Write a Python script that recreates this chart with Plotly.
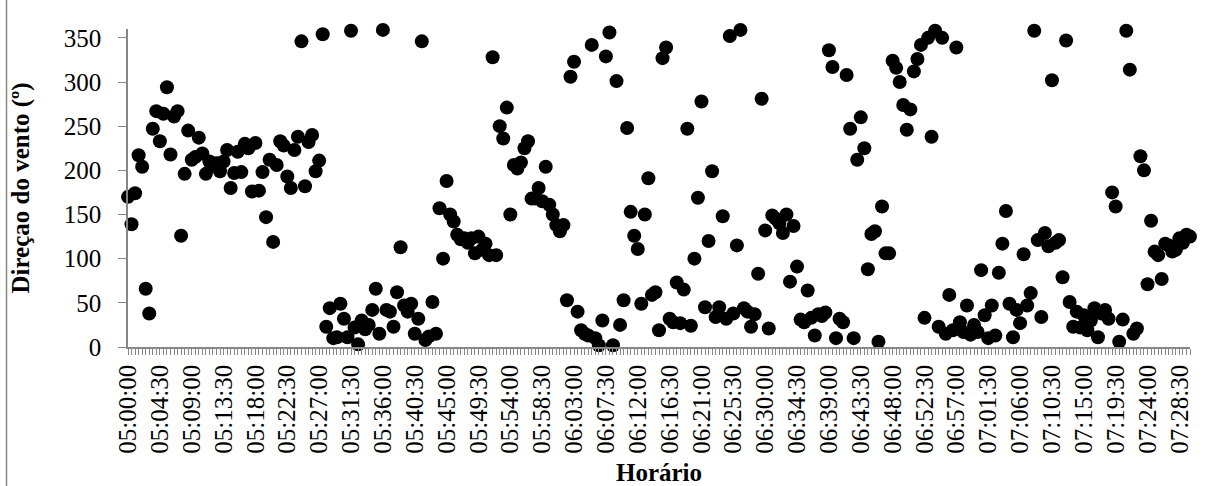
import plotly.graph_objects as go
from datetime import datetime, timedelta

# Category labels: one reading every 30 s from 05:00:00 to 07:30:00
times = [(datetime(2000, 1, 1, 5, 0, 0) + timedelta(seconds=30 * i)).strftime("%H:%M:%S")
         for i in range(301)]

# Wind direction (degrees)
direction = [
    170, 139, 174, 217, 204, 66, 38, 247, 267, 233,
    264, 294, 218, 261, 267, 126, 196, 245, 212, 215,
    237, 219, 196, 210, 205, 208, 199, 210, 223, 180,
    197, 221, 198, 230, 225, 176, 231, 177, 198, 147,
    212, 119, 206, 233, 228, 193, 180, 223, 238, 346,
    182, 232, 240, 199, 211, 354, 23, 44, 10, 11,
    49, 32, 11, 358, 22, 3, 30, 20, 25, 42,
    66, 15, 359, 42, 40, 23, 62, 113, 47, 40,
    49, 15, 32, 346, 8, 12, 51, 15, 157, 100,
    188, 150, 142, 127, 122, 123, 118, 123, 106, 125,
    110, 117, 104, 328, 104, 250, 236, 271, 150, 206,
    202, 209, 225, 233, 168, 168, 180, 165, 204, 161,
    150, 138, 131, 138, 53, 306, 323, 40, 19, 15,
    13, 342, 10, 2, 30, 329, 356, 2, 301, 25,
    53, 248, 153, 126, 111, 49, 150, 191, 59, 62,
    19, 327, 339, 32, 28, 73, 27, 65, 247, 24,
    100, 169, 278, 45, 120, 199, 34, 45, 148, 32,
    352, 38, 115, 359, 44, 40, 23, 37, 83, 281,
    132, 21, 149, 145, 140, 129, 150, 74, 137, 91,
    31, 28, 64, 33, 13, 37, 35, 39, 336, 317,
    10, 32, 28, 308, 247, 10, 212, 260, 225, 88,
    128, 131, 6, 159, 106, 106, 324, 316, 300, 274,
    246, 269, 312, 326, 342, 33, 350, 238, 358, 23,
    350, 15, 59, 19, 339, 28, 17, 47, 14, 25,
    17, 87, 36, 10, 47, 13, 84, 117, 154, 49,
    11, 42, 27, 105, 47, 61, 358, 121, 34, 129,
    114, 302, 118, 121, 79, 347, 51, 23, 40, 22,
    36, 19, 30, 44, 11, 38, 42, 32, 175, 159,
    6, 31, 358, 314, 15, 21, 216, 200, 71, 143,
    108, 104, 77, 117, 115, 108, 110, 123, 118, 127,
    125,
]

y_ticks = [0, 50, 100, 150, 200, 250, 300, 350]
label_step = 9

x_idx = list(range(len(times)))
tick_idx = x_idx[::label_step]
tick_txt = times[::label_step]

FONT = "Liberation Serif"
GRAY = "#868686"

W, H = 1209, 486
ML, MR, MT, MB = 128, 19, 29, 139
PW, PH = W - ML - MR, H - MT - MB

fig = go.Figure(
    go.Scatter(
        x=x_idx,
        y=direction,
        mode="markers",
        marker=dict(color="black", size=14, line=dict(width=0)),
        cliponaxis=False,
        showlegend=False,
    )
)

# chart-area frame line on the left edge
fig.add_shape(
    type="line", xref="paper", yref="paper",
    x0=(6.5 - ML) / PW, x1=(6.5 - ML) / PW,
    y0=-(MB) / PH, y1=(H - MB) / PH,
    line=dict(color=GRAY, width=1.5),
)

fig.update_layout(
    width=W,
    height=H,
    margin=dict(l=ML, r=MR, t=MT, b=MB, pad=0, autoexpand=False),
    paper_bgcolor="white",
    plot_bgcolor="white",
    font=dict(family=FONT, color="black", size=25),
    xaxis=dict(
        automargin=False,
        range=[0, len(times) - 1],
        tickmode="array",
        tickvals=tick_idx,
        ticktext=tick_txt,
        tickangle=-90,
        ticks="outside",
        ticklen=6,
        tickwidth=1,
        tickcolor=GRAY,
        minor=dict(ticks="outside", dtick=1, tick0=0, ticklen=6, tickwidth=1, tickcolor=GRAY),
        showline=True,
        linecolor=GRAY,
        linewidth=1.5,
        showgrid=False,
        zeroline=False,
        tickfont=dict(family=FONT, size=25, color="black"),
        title=dict(text="<b>Horário</b>", font=dict(family=FONT, size=25, color="black"), standoff=12),
    ),
    yaxis=dict(
        automargin=False,
        range=[0, 360],
        tickmode="array",
        tickvals=y_ticks,
        ticks="outside",
        ticklen=8,
        tickwidth=1,
        tickcolor=GRAY,
        showline=True,
        linecolor=GRAY,
        linewidth=1.5,
        showgrid=False,
        zeroline=False,
        ticklabelstandoff=12,
        tickfont=dict(family=FONT, size=25, color="black"),
        title=dict(text="<b>Direçao do vento (º)</b>", font=dict(family=FONT, size=25, color="black"), standoff=27),
    ),
)

fig.write_html("out.html")
